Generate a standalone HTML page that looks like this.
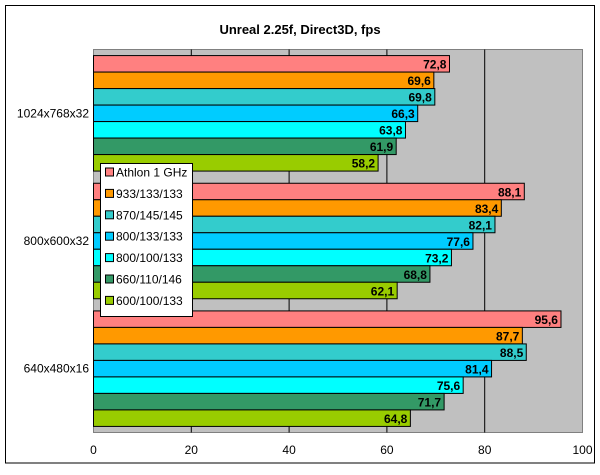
<!DOCTYPE html>
<html><head><meta charset="utf-8"><style>
body{margin:0;background:#fff;font-family:"Liberation Sans",Arial,sans-serif}
</style></head><body>
<svg id="c" width="600" height="470" xmlns="http://www.w3.org/2000/svg" font-family="Liberation Sans, Arial, sans-serif">
<rect x="5.5" y="5.5" width="589" height="457.5" fill="#fff" stroke="#000"/>
<text x="300" y="34" text-anchor="middle" font-size="13" font-weight="bold">Unreal 2.25f, Direct3D, fps</text>
<rect x="93.5" y="49.5" width="489" height="383" fill="#c0c0c0" stroke="#808080"/>
<g id="grid"></g><g id="bars"></g><g id="axis"></g><g id="legend"></g>
</svg>
<script>
const categories=["1024x768x32","800x600x32","640x480x16"];
const seriesNames=["Athlon 1 GHz","933/133/133","870/145/145","800/133/133","800/100/133","660/110/146","600/100/133"];
const colors=["#ff8080","#ff9900","#33cccc","#00ccff","#00ffff","#339966","#99cc00"];
const s0=[72.8,88.1,95.6];
const s1=[69.6,83.4,87.7];
const s2=[69.8,82.1,88.5];
const s3=[66.3,77.6,81.4];
const s4=[63.8,73.2,75.6];
const s5=[61.9,68.8,71.7];
const s6=[58.2,62.1,64.8];
const series=[s0,s1,s2,s3,s4,s5,s6];
const ticks=[0,20,40,60,80,100];
const NS="http://www.w3.org/2000/svg";
const X0=93.5,X1=582.5,Y0=49.5,Y1=432.5;
const x=v=>X0+(X1-X0)*v/100;
const band=(Y1-Y0)/categories.length, bh=16.5, pad=(band-bh*7)/2;
function mk(t,a,p){const e=document.createElementNS(NS,t);for(const k in a)e.setAttribute(k,a[k]);(p||document.getElementById('c')).appendChild(e);return e;}
const grid=document.getElementById('grid'),bars=document.getElementById('bars'),axis=document.getElementById('axis'),leg=document.getElementById('legend');
ticks.forEach(t=>{
 if(t>0&&t<100){const l=mk('line',{x1:x(t),x2:x(t),y1:Y0,y2:Y1,stroke:'#000'},grid);
 
 }
 const tx=mk('text',{x:x(t),y:454,'text-anchor':'middle','font-size':12},axis);tx.textContent=t;
 
 
});
categories.forEach((c,ci)=>{
 const gy=Y0+ci*band;
 const cl=mk('text',{x:89,y:gy+band/2+4,'text-anchor':'end','font-size':12},axis);cl.textContent=c;
 
 
 series.forEach((s,si)=>{
  const y=gy+pad+si*bh;
  const r=mk('rect',{x:X0,y:y,width:x(s[ci])-X0,height:bh,fill:colors[si],stroke:'#000'},bars);
  
  
  const v=mk('text',{x:x(s[ci])-3,y:y+bh-3.5,'text-anchor':'end','font-size':12,'font-weight':'bold'},bars);
  v.textContent=String(s[ci]).replace('.',',');
  
  
 });
});
const lb=mk('rect',{x:100.5,y:163.5,width:92,height:153,fill:'#fff',stroke:'#000'},leg);


seriesNames.forEach((n,i)=>{
 const y=172+i*21.4;
 const sw=mk('rect',{x:105.5,y:y-4,width:8,height:8,fill:colors[i],stroke:'#000'},leg);
 
 
 const t=mk('text',{x:116,y:y+4.5,'font-size':12},leg);t.textContent=n;
 
 
});
</script>
</body></html>
